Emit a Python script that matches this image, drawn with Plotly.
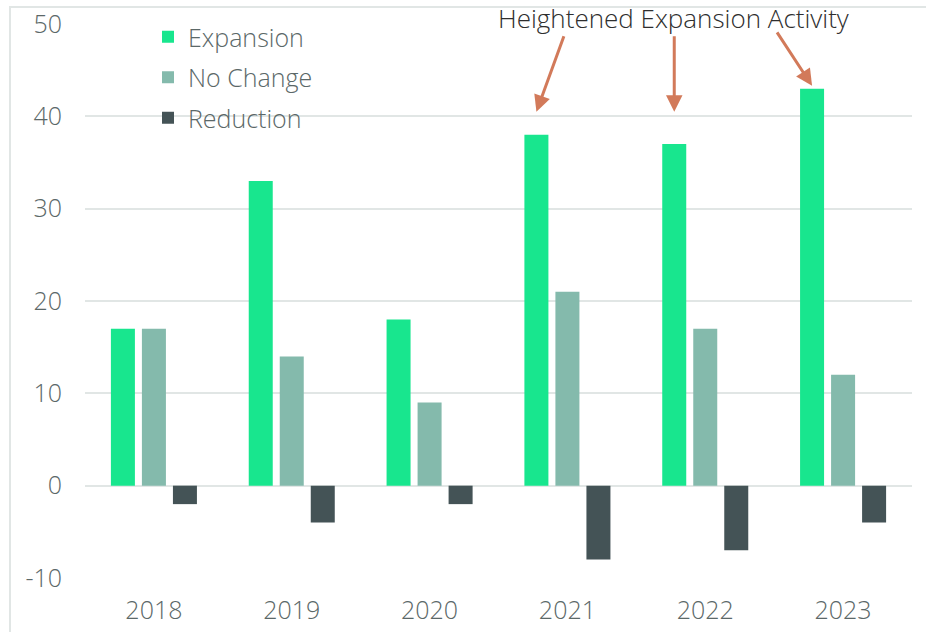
import plotly.graph_objects as go

years = ["2018", "2019", "2020", "2021", "2022", "2023"]
expansion = [17, 33, 18, 38, 37, 43]
no_change = [17, 14, 9, 21, 17, 12]
reduction = [-2, -4, -2, -8, -7, -4]

series_names = ["Expansion", "No Change", "Reduction"]
colors = ["#18E68E", "#84BAAC", "#445356"]
y_ticks = [-10, 0, 10, 20, 30, 40, 50]
y_ticktext = ["-10", "0", "10", "20", "30", "40", "50"]
annotation_text = "Heightened Expansion Activity"
arrow_targets = [("2021", 40.5), ("2022", 40.5), ("2023", 43.3)]
arrow_tails = [(28, -77), (0, -77), (-36, -55)]

FONT = "'Open Sans', Lato, sans-serif"
TXT = "#5B6868"
GRID = "#E1E6E5"
ARROW = "#D27A5A"

fig = go.Figure()
for name, vals, col in zip(series_names, [expansion, no_change, reduction], colors):
    fig.add_trace(go.Bar(x=years, y=vals, name=name, marker_color=col,
                         marker_line_width=0, legendgroup=name, hoverinfo="skip"))

annotations = [dict(text=annotation_text, xref="paper", yref="paper",
                    x=(673 - 85) / 827, y=1 + (24 - 18) / 554, xanchor="center", yanchor="middle",
                    showarrow=False, font=dict(family=FONT, size=26, color="#2E2E2E", weight=300))]
for (yr, yv), (ax, ay) in zip(arrow_targets, arrow_tails):
    annotations.append(dict(x=years.index(yr), y=yv, xref="x", yref="y", xshift=-31, text="",
                            showarrow=True, arrowhead=2, arrowsize=1.1, arrowwidth=3,
                            arrowcolor=ARROW, ax=ax, ay=ay, axref="pixel", ayref="pixel"))

fig.update_layout(
    width=926, height=632,
    margin=dict(l=85, r=14, t=24, b=54, autoexpand=False),
    paper_bgcolor="white", plot_bgcolor="white",
    barmode="group", bargap=0.325, bargroupgap=0.226,
    font=dict(family=FONT, color=TXT, size=22),
    legend=dict(x=(148 - 85) / 827, y=1 + 10 / 554, xanchor="left", yanchor="top",
                font=dict(family=FONT, size=25, color=TXT, weight=300), tracegroupgap=5,
                bgcolor="rgba(0,0,0,0)"),
    annotations=annotations,
    shapes=[dict(type="path", xref="paper", yref="paper",
                 path=f"M {(10-85)/827},-0.2 L {(10-85)/827},{1 + 17/554} L 1.2,{1 + 17/554}",
                 line=dict(color=GRID, width=2), layer="below")],
)
fig.update_xaxes(type="category", range=[-0.5, len(years) - 0.5], showgrid=False, showline=False,
                 ticks="", zeroline=False,
                 tickfont=dict(size=25, color=TXT, weight=300), ticklabelstandoff=15)
fig.update_yaxes(range=[-10, 50], tickvals=y_ticks, ticktext=y_ticktext, showgrid=True,
                 gridcolor=GRID, gridwidth=2,
                 zeroline=True, zerolinecolor=GRID, zerolinewidth=2, showline=False,
                 ticks="", tickfont=dict(size=25, color=TXT, weight=300), ticklabelstandoff=22)

fig.write_html("out.html", post_script="document.body.style.margin='0';",
               config={"displayModeBar": False})
